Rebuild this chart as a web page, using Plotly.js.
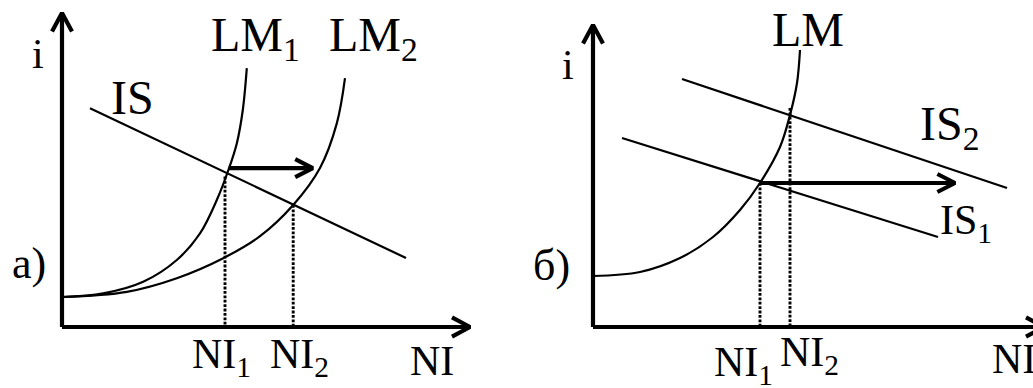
<!DOCTYPE html>
<html>
<head>
<meta charset="utf-8">
<script src="https://cdn.plot.ly/plotly-3.0.1.min.js"></script>
<style>
  html, body { margin: 0; padding: 0; background: #ffffff; }
  #chart { width: 1033px; height: 388px; }
</style>
</head>
<body>
<div id="chart"></div>
<script>
// ---------- Panel а): monetary expansion, LM1 -> LM2 ----------
const aAxisNI = [0, 102];            // NI axis from origin to tip
const aAxisI = [0, 78.5];            // i axis from origin to tip
const aIsNI = [7, 86];
const aIsI = [54.7, 17.25];
const aLm1NI = [0, 10.3, 20.3, 28.7, 34.5, 38.7, 41.6, 43.7, 45.2, 46.2];
const aLm1I = [7.5, 8.4, 11.3, 16.75, 23.4, 31.75, 39.25, 45.9, 54.25, 64.7];
const aLm2NI = [0, 16.2, 28.7, 40.3, 49.5, 57.8, 64.5, 68.7, 70.75];
const aLm2I = [7.5, 8.8, 12.2, 17.2, 22.7, 30.5, 39.75, 50.9, 62.2];
const aEquilNI = [40.75, 57.8];      // NI1, NI2
const aEquilI = [37.6, 30.5];
const aShiftNI = [41.7, 62.7];
const aShiftI = 39.7;

// ---------- Panel б): fiscal expansion, IS1 -> IS2 ----------
const bAxisNI = [0, 112.75];
const bAxisI = [0, 75.5];
const bLmNI = [0, 11.75, 21.75, 30, 36.75, 41.75, 46.75, 49.25, 51, 51.75];
const bLmI = [12.75, 13.75, 17.25, 22.5, 29.25, 36, 45, 53, 61, 69.25];
const bIs1NI = [7.25, 86.25];
const bIs1I = [47.25, 22.5];
const bIs2NI = [22.25, 103.5];
const bIs2I = [62, 34.75];
const bEquilNI = [41.75, 49.25];
const bEquilI = [36, 54.75];
const bShiftNI = [41.75, 90.5];
const bShiftI = 36;

// ---------- geometry ----------
const W = 1033, H = 388, SPLIT = 516;
const S = 4; // pixels per data unit, both axes, both panels
const geo = {
  a: { xa: 'x',  ya: 'y',  ox: 62,  oy: 327, p0: 0,     p1: SPLIT },
  b: { xa: 'x2', ya: 'y2', ox: 593, oy: 327, p0: SPLIT, p1: W }
};

const INK = '#000000';
const SERIF = 'Liberation Serif, Times New Roman, Times, serif';
const traces = [];

function line(p, xs, ys, width, opts) {
  traces.push({
    type: 'scatter', mode: 'lines', x: xs, y: ys,
    xaxis: p.xa, yaxis: p.ya, hoverinfo: 'skip', showlegend: false,
    line: Object.assign({ color: INK, width: width }, (opts && opts.line) || {})
  });
}
function curve(p, xs, ys) {
  line(p, xs, ys, 2.2, { line: { shape: 'spline', smoothing: 1 } });
}
// open chevron head: dir = 'right' | 'up'
function chevron(p, tx, ty, dir, back, half, width) {
  if (dir === 'right') line(p, [tx - back, tx, tx - back], [ty + half, ty, ty - half], width);
  else line(p, [tx - half, tx, tx + half], [ty - back, ty, ty - back], width);
}
function axes(p, niEnd, iEnd) {
  line(p, [niEnd[0], niEnd[1]], [0, 0], 4.2);
  line(p, [0, 0], [iEnd[0], iEnd[1]], 4.2);
  chevron(p, niEnd[1], 0, 'right', 4.5, 2.4, 4.2);
  chevron(p, 0, iEnd[1], 'up', 4.6, 2.5, 4.2);
}
function drops(p, xs, ys) {
  xs.forEach(function (x, k) {
    line(p, [x, x], [ys[k], 0], 2.9, { line: { dash: '2.8px,1.6px' } });
  });
}
function shift(p, xs, y) {
  line(p, xs, [y, y], 4.2);
  chevron(p, xs[1], y, 'right', 4.4, 2.25, 4.2);
}

// panel а)
drops(geo.a, aEquilNI, aEquilI);
line(geo.a, aIsNI, aIsI, 2.2);
curve(geo.a, aLm1NI, aLm1I);
curve(geo.a, aLm2NI, aLm2I);
shift(geo.a, aShiftNI, aShiftI);
axes(geo.a, aAxisNI, aAxisI);

// panel б)
drops(geo.b, bEquilNI, bEquilI);
line(geo.b, bIs1NI, bIs1I, 2.2);
line(geo.b, bIs2NI, bIs2I, 2.2);
curve(geo.b, bLmNI, bLmI);
shift(geo.b, bShiftNI, bShiftI);
axes(geo.b, bAxisNI, bAxisI);

// ---------- text ----------
const labels = [
  { p: 'a', t: 'i',               x: -6.1,  y: 68.3, s: 42, xa: 'center' },
  { p: 'a', t: 'LM<sub>1</sub>',  x: 36.75, y: 72.2, s: 48 },
  { p: 'a', t: 'LM<sub>2</sub>',  x: 66.25, y: 72.2, s: 48 },
  { p: 'a', t: 'IS',              x: 11.75, y: 57.3, s: 48 },
  { p: 'a', t: 'а)',              x: -12.9, y: 16,   s: 44 },
  { p: 'a', t: 'NI<sub>1</sub>',  x: 32,    y: -7.6, s: 42 },
  { p: 'a', t: 'NI<sub>2</sub>',  x: 51.5,  y: -7.6, s: 42 },
  { p: 'a', t: 'NI',              x: 86.5,  y: -8.5, s: 42 },
  { p: 'b', t: 'i',               x: -6.25, y: 65.5, s: 42, xa: 'center' },
  { p: 'b', t: 'LM',              x: 44.25, y: 74.5, s: 48 },
  { p: 'b', t: 'IS<sub>2</sub>',  x: 81.25, y: 50.0, s: 48 },
  { p: 'b', t: 'IS<sub>1</sub>',  x: 86.25, y: 26.0, s: 42 },
  { p: 'b', t: 'б)',              x: -15.6, y: 15.3, s: 44 },
  { p: 'b', t: 'NI<sub>1</sub>',  x: 29.75, y: -9.4, s: 42 },
  { p: 'b', t: 'NI<sub>2</sub>',  x: 46.25, y: -7.1, s: 42 },
  { p: 'b', t: 'NI',              x: 99.25, y: -8,   s: 42 }
];
const annotations = labels.map(function (L) {
  const p = geo[L.p];
  return {
    text: L.t, x: L.x, y: L.y, xref: p.xa, yref: p.ya,
    xanchor: L.xa || 'left', yanchor: 'middle', showarrow: false,
    font: { family: SERIF, size: L.s, color: INK }
  };
});

// ---------- axes: hidden, scaled so one unit is S pixels ----------
function xAxis(p) {
  return {
    domain: [p.p0 / W, p.p1 / W], range: [(p.p0 - p.ox) / S, (p.p1 - p.ox) / S],
    visible: false, fixedrange: true, anchor: p.ya
  };
}
function yAxis(p) {
  return {
    domain: [0, 1], range: [(p.oy - H) / S, p.oy / S],
    visible: false, fixedrange: true, anchor: p.xa
  };
}

const layout = {
  width: W, height: H,
  margin: { l: 0, r: 0, t: 0, b: 0, pad: 0 },
  paper_bgcolor: '#ffffff', plot_bgcolor: '#ffffff',
  showlegend: false,
  font: { family: SERIF, color: INK },
  xaxis: xAxis(geo.a), yaxis: yAxis(geo.a),
  xaxis2: xAxis(geo.b), yaxis2: yAxis(geo.b),
  annotations: annotations
};

Plotly.newPlot('chart', traces, layout, { staticPlot: true, displayModeBar: false });
</script>
</body>
</html>
